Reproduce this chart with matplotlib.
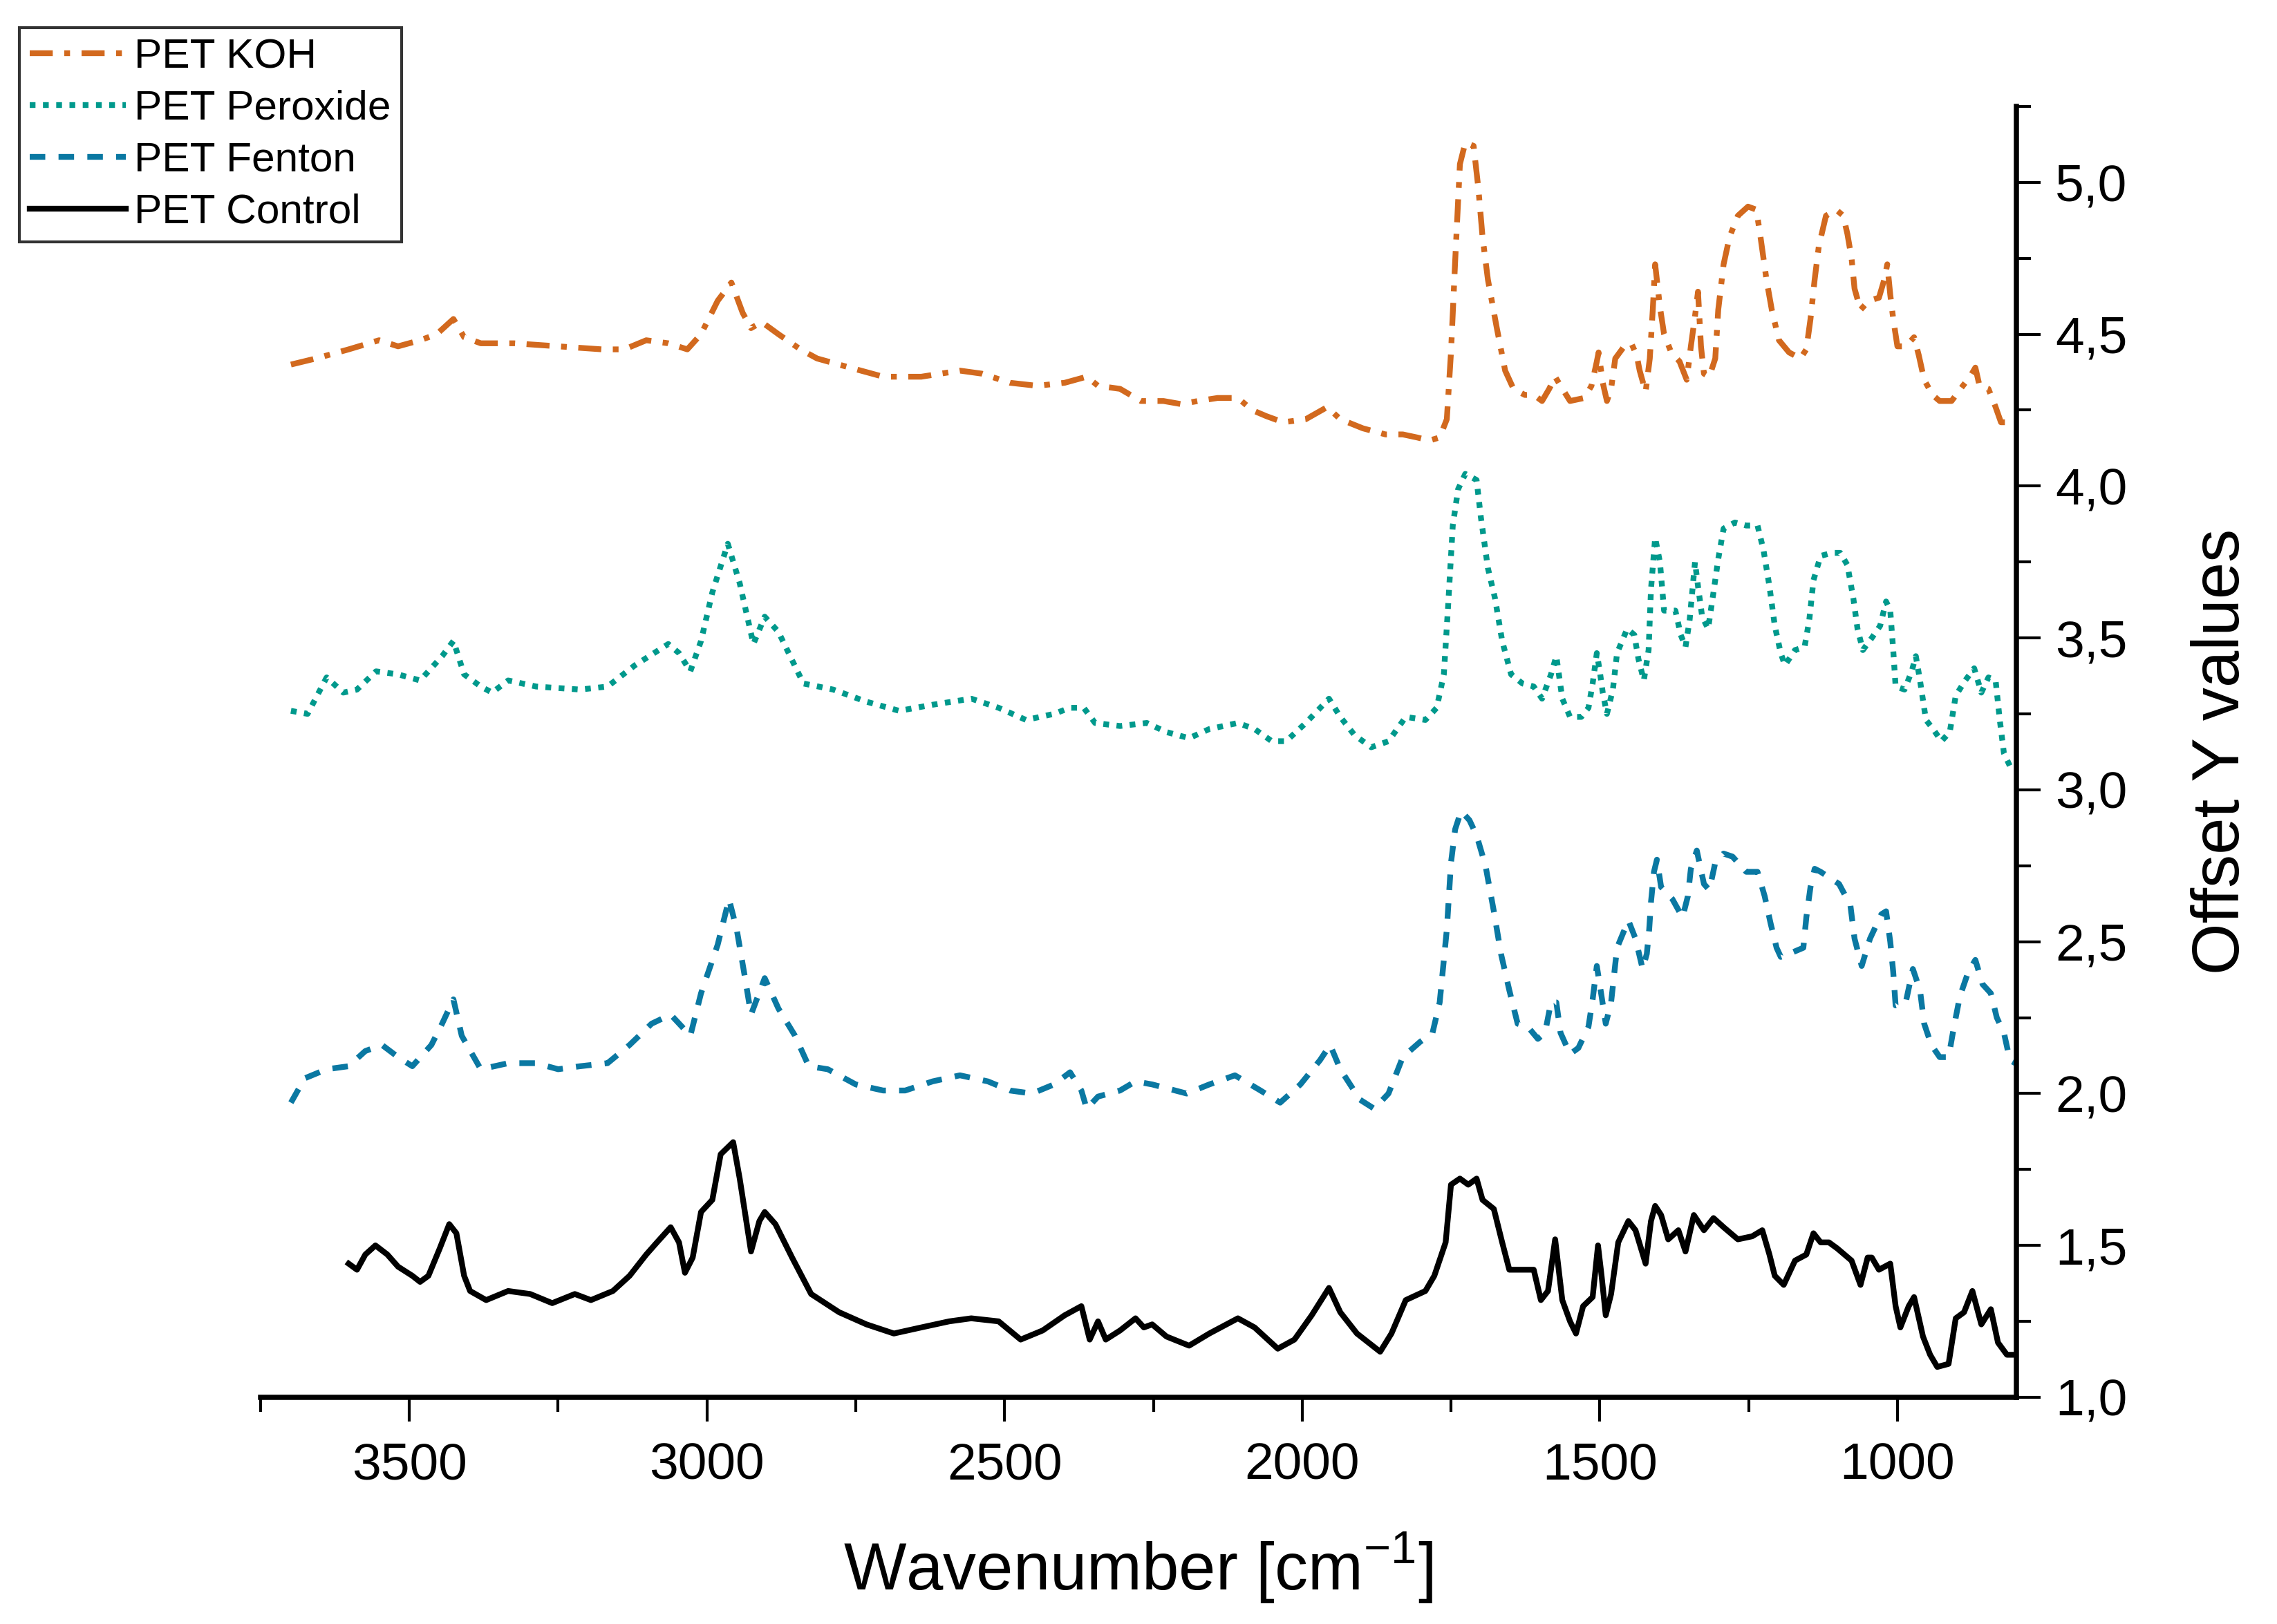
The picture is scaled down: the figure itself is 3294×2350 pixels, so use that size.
import matplotlib
matplotlib.use("Agg")
import matplotlib.pyplot as plt
from matplotlib.ticker import MultipleLocator, FuncFormatter
import numpy as np

plt.rcParams['font.family'] = ['Liberation Sans', 'DejaVu Sans']

# values (wavenumber in cm-1, offset y)
koh_wn = [3699, 3657, 3602, 3551, 3519, 3482, 3454, 3426, 3408, 3380, 3324, 3250, 3176, 3139, 3102, 3065, 3033, 3010,
          2982, 2959, 2940, 2926, 2908, 2880, 2843, 2815, 2760, 2704, 2640, 2575, 2538, 2491, 2445, 2399, 2362, 2343, 2306,
          2271, 2233, 2204, 2175, 2142, 2108, 2084, 2060, 2032, 1994, 1958, 1936, 1898, 1860, 1831, 1807, 1786, 1769, 1757,
          1750, 1743, 1735, 1726, 1712, 1704, 1697, 1688, 1673, 1659, 1645, 1626, 1611, 1597, 1585, 1575, 1566,
          1550, 1526, 1514, 1505, 1502, 1495, 1488, 1481, 1474, 1459, 1447, 1438, 1433, 1423, 1416, 1411, 1407, 1399, 1392,
          1380, 1366, 1354, 1347, 1340, 1335, 1330, 1325, 1316, 1306, 1301, 1292, 1282, 1268, 1251, 1237, 1230, 1220, 1211,
          1199, 1182, 1163, 1153, 1146, 1139, 1132, 1120, 1103, 1091, 1084, 1077, 1072, 1062, 1048, 1031, 1022, 1017, 1012,
          1007, 1000, 986, 972, 964, 955, 941, 929, 909, 890, 878, 869, 862, 847, 835, 826, 811, 802]
koh_y = [4.40, 4.42, 4.45, 4.48, 4.46, 4.48, 4.50, 4.55, 4.49, 4.47, 4.47, 4.46, 4.45, 4.45, 4.48, 4.47, 4.45, 4.50,
         4.61, 4.67, 4.57, 4.52, 4.54, 4.50, 4.45, 4.42, 4.39, 4.36, 4.36, 4.38, 4.37, 4.34, 4.33, 4.34, 4.36, 4.33, 4.32,
         4.28, 4.28, 4.27, 4.28, 4.29, 4.29, 4.25, 4.23, 4.21, 4.22, 4.26, 4.22, 4.19, 4.17, 4.17, 4.16, 4.15, 4.16, 4.22,
         4.44, 4.74, 5.06, 5.13, 5.12, 4.98, 4.82, 4.68, 4.52, 4.38, 4.32, 4.30, 4.30, 4.28, 4.32, 4.36, 4.33,
         4.28, 4.29, 4.33, 4.41, 4.44, 4.34, 4.28, 4.32, 4.42, 4.46, 4.47, 4.43, 4.38, 4.31, 4.42, 4.58, 4.73, 4.59, 4.50,
         4.44, 4.41, 4.35, 4.46, 4.56, 4.64, 4.46, 4.37, 4.36, 4.42, 4.58, 4.73, 4.82, 4.89, 4.92, 4.91, 4.82, 4.68, 4.58,
         4.48, 4.44, 4.42, 4.45, 4.55, 4.68, 4.79, 4.89, 4.91, 4.89, 4.83, 4.75, 4.65, 4.58, 4.61, 4.62, 4.68, 4.73, 4.63,
         4.55, 4.46, 4.46, 4.49, 4.43, 4.35, 4.30, 4.28, 4.28, 4.33, 4.36, 4.39, 4.33, 4.32, 4.26, 4.21, 4.21, 4.22]

perox_wn = [3699, 3671, 3639, 3611, 3588, 3556, 3519, 3482, 3445, 3426, 3408, 3380, 3361, 3334, 3287, 3213, 3167, 3121,
            3065, 3047, 3028, 3010, 2991, 2965, 2945, 2922, 2903, 2880, 2838, 2788, 2732, 2677, 2621, 2556, 2510, 2464,
            2417, 2390, 2367, 2348, 2306,
            2261, 2228, 2190, 2156, 2108, 2080, 2051, 2027, 1994, 1955, 1936, 1912, 1884, 1855, 1826, 1793, 1774, 1762,
            1755, 1747, 1738, 1726, 1707, 1700, 1688, 1676, 1664, 1649, 1630, 1611, 1597, 1582, 1573, 1563,
            1550, 1531, 1519, 1512, 1505, 1500, 1495, 1488, 1478, 1471, 1454, 1442, 1435, 1426, 1418, 1414, 1407, 1399,
            1392, 1373, 1364, 1356, 1349, 1340, 1335, 1328, 1318, 1309, 1301, 1292, 1273, 1254, 1235, 1225, 1215, 1206,
            1196, 1189, 1172, 1156, 1148, 1141, 1129, 1110, 1096, 1084, 1074, 1067, 1058, 1043, 1029, 1019, 1012, 1007,
            1003, 988, 976, 969, 962, 952, 940, 926, 912, 902, 886, 871, 859, 847, 835, 828, 821, 809, 802]
perox_y = [3.26, 3.25, 3.37, 3.32, 3.33, 3.39, 3.38, 3.36, 3.44, 3.49, 3.38, 3.34, 3.32, 3.36, 3.34, 3.33, 3.34, 3.41,
           3.48, 3.45, 3.39, 3.49, 3.65, 3.81, 3.68, 3.48, 3.57, 3.52, 3.35, 3.33, 3.29, 3.26, 3.28, 3.30, 3.27, 3.23,
           3.25, 3.27, 3.27, 3.22, 3.21,
           3.22, 3.19, 3.17, 3.20, 3.22, 3.20, 3.16, 3.16, 3.22, 3.30, 3.24, 3.18, 3.14, 3.16, 3.24, 3.23, 3.27, 3.38,
           3.60, 3.87, 3.99, 4.04, 4.02, 3.90, 3.73, 3.63, 3.49, 3.38, 3.35, 3.34, 3.30, 3.38, 3.44, 3.30,
           3.24, 3.24, 3.27, 3.35, 3.45, 3.39, 3.32, 3.25, 3.33, 3.45, 3.53, 3.51, 3.43, 3.36, 3.46, 3.66, 3.83, 3.75,
           3.59, 3.59, 3.51, 3.47, 3.56, 3.75, 3.67, 3.57, 3.53, 3.65, 3.76, 3.86, 3.88, 3.87, 3.87, 3.79, 3.67, 3.54,
           3.45, 3.41, 3.46, 3.47, 3.56, 3.69, 3.77, 3.78, 3.78, 3.74, 3.63, 3.53, 3.46, 3.50, 3.54, 3.62, 3.59, 3.46,
           3.34, 3.33, 3.39, 3.44, 3.36, 3.23, 3.20, 3.16, 3.19, 3.31, 3.36, 3.40, 3.32, 3.37, 3.36, 3.23, 3.12, 3.07, 3.07]

fenton_wn = [3699, 3676, 3639, 3602, 3574, 3546, 3519, 3495, 3463, 3445, 3426, 3412, 3380, 3334, 3287, 3250, 3213, 3167,
             3130, 3093, 3061, 3042, 3028, 3010, 2982, 2963, 2950, 2936, 2926, 2903, 2880, 2852, 2829, 2797, 2750, 2704,
             2667, 2621, 2575, 2528, 2491, 2454, 2417, 2390, 2371, 2362, 2343, 2306,
             2280, 2252, 2194, 2156, 2113, 2070, 2037, 2003, 1970, 1953, 1936, 1903, 1879, 1855, 1831, 1802, 1781, 1769,
             1757, 1750, 1743, 1733, 1719, 1707, 1692, 1678, 1666, 1652, 1638, 1621, 1604, 1592, 1582, 1573, 1566,
             1550, 1536, 1519, 1512, 1505, 1497, 1490, 1481, 1476, 1471, 1452, 1440, 1428, 1421, 1417, 1414, 1409, 1404,
             1397, 1378, 1361, 1352, 1347, 1337, 1325, 1316, 1306, 1292, 1277, 1254, 1235, 1223, 1213, 1203, 1196, 1182,
             1158, 1153, 1146, 1139, 1129, 1098, 1079, 1072, 1060, 1046, 1027, 1019, 1012, 1007, 1003, 986, 974, 962,
             955, 943, 929, 914, 905, 895, 881, 869, 857, 843, 833, 821, 811, 802]
fenton_y = [1.97, 2.05, 2.08, 2.09, 2.14, 2.16, 2.12, 2.09, 2.16, 2.23, 2.31, 2.19, 2.08, 2.10, 2.10, 2.08, 2.09, 2.10,
            2.16, 2.23, 2.26, 2.22, 2.19, 2.33, 2.49, 2.64, 2.54, 2.38, 2.26, 2.38, 2.28, 2.19, 2.09, 2.08, 2.03, 2.01,
            2.01, 2.04, 2.06, 2.04, 2.01, 2.00, 2.03, 2.07, 2.01, 1.95, 1.99, 2.01,
            2.04, 2.03, 2.00, 2.03, 2.06, 2.01, 1.97, 2.03, 2.11, 2.16, 2.08, 1.98, 1.95, 2.00, 2.12, 2.17, 2.20, 2.30,
            2.54, 2.76, 2.87, 2.93, 2.90, 2.85, 2.75, 2.60, 2.46, 2.34, 2.23, 2.22, 2.18, 2.20, 2.30, 2.30, 2.20,
            2.13, 2.15, 2.22, 2.31, 2.42, 2.32, 2.23, 2.30, 2.39, 2.48, 2.57, 2.51, 2.41, 2.46, 2.54, 2.63, 2.73, 2.77,
            2.68, 2.64, 2.58, 2.65, 2.74, 2.80, 2.69, 2.67, 2.76, 2.79, 2.78, 2.73, 2.73, 2.65, 2.56, 2.48, 2.45, 2.46,
            2.48, 2.58, 2.68, 2.74, 2.73, 2.69, 2.62, 2.51, 2.42, 2.51, 2.59, 2.60, 2.50, 2.40, 2.29, 2.30, 2.41, 2.34,
            2.23, 2.16, 2.12, 2.12, 2.22, 2.32, 2.40, 2.44, 2.36, 2.33, 2.25, 2.20, 2.11, 2.10]

control_wn = [3602, 3588, 3574, 3557, 3537, 3519, 3495, 3482, 3468, 3449, 3433, 3421, 3408, 3398, 3371, 3334, 3297, 3260,
              3222, 3195, 3158, 3130, 3102, 3084, 3061, 3047, 3037, 3024, 3010, 2991, 2977, 2956, 2945, 2926, 2912, 2903,
              2885, 2857, 2825, 2778, 2732, 2686, 2640, 2593, 2556, 2510, 2473, 2436, 2399, 2371, 2357, 2343, 2330, 2306,
              2280, 2266, 2252, 2228, 2190, 2156, 2108, 2080, 2041, 2013, 1984, 1955, 1936, 1908, 1869, 1850, 1826, 1793,
              1778, 1759, 1750, 1735, 1721, 1707, 1697, 1678, 1664, 1652, 1630, 1611, 1599, 1587, 1575, 1563,
              1550, 1540, 1528, 1512, 1503, 1497, 1490, 1481, 1469, 1452, 1440, 1423, 1414, 1407, 1397, 1385, 1368, 1356,
              1342, 1325, 1309, 1292, 1268, 1244, 1227, 1215, 1206, 1191, 1172, 1153, 1141, 1129, 1115, 1101, 1077, 1062,
              1050, 1043, 1031, 1012, 1003, 995, 981, 972, 957, 945, 933, 914, 902, 888, 874, 859, 843, 831, 816, 804]
control_y = [1.44, 1.42, 1.47, 1.50, 1.47, 1.43, 1.40, 1.38, 1.40, 1.49, 1.57, 1.54, 1.40, 1.35, 1.32, 1.35, 1.34, 1.31,
             1.34, 1.32, 1.35, 1.40, 1.47, 1.51, 1.56, 1.51, 1.41, 1.46, 1.61, 1.65, 1.80, 1.84, 1.72, 1.48, 1.58, 1.61,
             1.57, 1.46, 1.34, 1.28, 1.24, 1.21, 1.23, 1.25, 1.26, 1.25, 1.19, 1.22, 1.27, 1.30, 1.19, 1.25, 1.19, 1.22,
             1.26, 1.23, 1.24, 1.20, 1.17, 1.21, 1.26, 1.23, 1.16, 1.19, 1.27, 1.36, 1.28, 1.21, 1.15, 1.21, 1.32, 1.35,
             1.40, 1.51, 1.70, 1.72, 1.70, 1.72, 1.65, 1.62, 1.51, 1.42, 1.42, 1.42, 1.32, 1.35, 1.52, 1.32,
             1.25, 1.21, 1.30, 1.33, 1.50, 1.40, 1.27, 1.34, 1.51, 1.58, 1.55, 1.44, 1.58, 1.63, 1.60, 1.52, 1.55, 1.48,
             1.60, 1.55, 1.59, 1.56, 1.52, 1.53, 1.55, 1.47, 1.40, 1.37, 1.45, 1.47, 1.54, 1.51, 1.51, 1.49, 1.45, 1.37,
             1.46, 1.46, 1.42, 1.44, 1.30, 1.23, 1.30, 1.33, 1.20, 1.14, 1.10, 1.11, 1.26, 1.28, 1.35, 1.24, 1.29, 1.18,
             1.14, 1.14]

labels = ['PET KOH', 'PET Peroxide', 'PET Fenton', 'PET Control']

fig = plt.figure(figsize=(3295 / 300, 2350 / 300), dpi=300)
ax = fig.add_axes([0.1144, 0.1396, 0.7709, 0.7949])

lw = 2.0
ax.plot(koh_wn, koh_y, color='#D2691E', lw=lw, linestyle=(0, (4, 2, 1, 2)), label=labels[0])
ax.plot(perox_wn, perox_y, color='#00998C', lw=lw, linestyle=(0, (1, 1.3)), label=labels[1])
ax.plot(fenton_wn, fenton_y, color='#0A78A2', lw=lw, linestyle=(0, (2.7, 2.3)), label=labels[2])
ax.plot(control_wn, control_y, color='black', lw=lw, linestyle='-', label=labels[3])

ax.set_xlim(3750, 800)
ax.set_ylim(1.0, 5.25)

ax.spines['top'].set_visible(False)
ax.spines['left'].set_visible(False)
ax.spines['bottom'].set_linewidth(1.8)
ax.spines['right'].set_linewidth(1.8)

ax.yaxis.tick_right()
ax.yaxis.set_label_position('right')
ax.xaxis.set_major_locator(MultipleLocator(500))
ax.xaxis.set_minor_locator(MultipleLocator(250))
ax.yaxis.set_major_locator(MultipleLocator(0.5))
ax.yaxis.set_minor_locator(MultipleLocator(0.25))
ax.yaxis.set_major_formatter(FuncFormatter(lambda v, p: ('%.1f' % v).replace('.', ',')))

ax.tick_params(which='major', direction='out', length=8.5, width=1.0, labelsize=18)
ax.tick_params(which='minor', direction='out', length=5, width=1.0)
ax.tick_params(axis='x', pad=7)
ax.tick_params(axis='y', pad=5)

ax.set_xlabel(r'Wavenumber [cm$^{\mathregular{-1}}$]', fontsize=23, labelpad=14)
ax.set_ylabel('Offset Y values', fontsize=23, labelpad=22)

leg = fig.legend(loc='upper left', bbox_to_anchor=(0.0085, 0.983), fontsize=14.5, frameon=True, fancybox=False,
                 edgecolor='black', handlelength=2.3, handletextpad=0.2, labelspacing=0.33, borderpad=0.25,
                 borderaxespad=0)
leg.get_frame().set_linewidth(1.0)

fig.savefig('out.png', dpi=300)
